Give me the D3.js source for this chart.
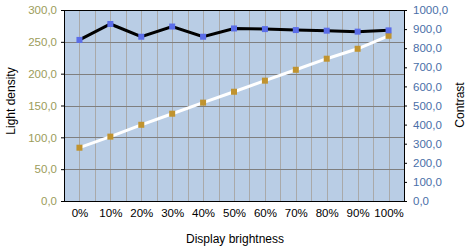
<!doctype html>
<html>
<head>
<meta charset="utf-8">
<style>
  body { margin: 0; background: #fff; }
  text { font-family: "Liberation Sans", Arial, sans-serif; }
</style>
</head>
<body>
<div id="chart"></div>
<script src="https://d3js.org/d3.v7.min.js"></script>
<script>
// data
var categories = ["0%", "10%", "20%", "30%", "40%", "50%", "60%", "70%", "80%", "90%", "100%"];
var lightDensity = [253, 278, 258, 274, 258, 271, 270, 268.5, 267.5, 266, 268];
var contrast = [279, 337, 399, 457, 515, 572, 630, 687, 745, 797, 865];
var leftTicks = [0, 50, 100, 150, 200, 250, 300];
var rightTicks = [0, 100, 200, 300, 400, 500, 600, 700, 800, 900, 1000];

var W = 470, H = 248;
var plotL = 64, plotR = 404, plotT = 10, plotB = 201;

var svg = d3.select("#chart").append("svg")
    .attr("width", W)
    .attr("height", H);

var x = d3.scalePoint().domain(categories).range([plotL, plotR]).padding(0.5);
var yL = d3.scaleLinear().domain([0, 300]).range([plotB, plotT]);
var yR = d3.scaleLinear().domain([0, 1000]).range([plotB, plotT]);

// plot background
svg.append("rect")
    .attr("x", plotL).attr("y", plotT)
    .attr("width", plotR - plotL).attr("height", plotB - plotT)
    .attr("fill", "#b9cde5");

// vertical grid lines: at each category and halfway between
var step = x.step();
var vlines = [];
categories.forEach(function (c) {
    vlines.push(x(c) - step / 2);
    vlines.push(x(c));
});
svg.append("g").selectAll("line")
    .data(vlines.filter(function (v) { return v > plotL + 1 && v < plotR - 1; }))
    .enter().append("line")
    .attr("x1", function (d) { return Math.round(d) + 0.5; })
    .attr("x2", function (d) { return Math.round(d) + 0.5; })
    .attr("y1", plotT).attr("y2", plotB)
    .attr("stroke", "#a9a9a9").attr("stroke-width", 1);

// horizontal grid lines
svg.append("g").selectAll("line")
    .data(leftTicks.slice(1, -1))
    .enter().append("line")
    .attr("x1", plotL).attr("x2", plotR)
    .attr("y1", function (d) { return Math.round(yL(d)) + 0.5; })
    .attr("y2", function (d) { return Math.round(yL(d)) + 0.5; })
    .attr("stroke", "#7f7f7f").attr("stroke-width", 1);

// top border
svg.append("line")
    .attr("x1", plotL).attr("x2", plotR)
    .attr("y1", plotT + 0.5).attr("y2", plotT + 0.5)
    .attr("stroke", "#000");

var fmt = function (d) { return d.toFixed(1).replace(".", ","); };

// left axis
var gL = svg.append("g")
    .attr("transform", "translate(" + plotL + ",0)")
    .call(d3.axisLeft(yL).tickValues(leftTicks).tickFormat(fmt).tickSize(3).tickSizeOuter(0));
gL.select(".domain").attr("stroke", "#000");
gL.selectAll(".tick line").attr("stroke", "#000");
gL.selectAll("text").attr("fill", "#9c9c5a").style("font-size", "11.5px")
    .style("font-family", "'Liberation Sans', Arial, sans-serif").attr("x", -7);

// right axis
var gR = svg.append("g")
    .attr("transform", "translate(" + plotR + ",0)")
    .call(d3.axisRight(yR).tickValues(rightTicks).tickFormat(fmt).tickSize(3).tickSizeOuter(0));
gR.select(".domain").attr("stroke", "#000");
gR.selectAll(".tick line").attr("stroke", "#000");
gR.selectAll("text").attr("fill", "#4a6fa8").style("font-size", "11.5px")
    .style("font-family", "'Liberation Sans', Arial, sans-serif").attr("x", 9);

// bottom axis
var gB = svg.append("g")
    .attr("transform", "translate(0," + plotB + ")")
    .call(d3.axisBottom(x).tickSize(0).tickSizeOuter(0));
gB.select(".domain").attr("stroke", "#000").attr("d", "M" + plotL + ",0.5H" + plotR);
gB.selectAll("text").attr("fill", "#000").style("font-size", "11.5px")
    .style("font-family", "'Liberation Sans', Arial, sans-serif").attr("y", 8);

// contrast line (white, gold markers)
svg.append("path")
    .datum(contrast)
    .attr("fill", "none")
    .attr("stroke", "#ffffff")
    .attr("stroke-width", 3)
    .attr("d", d3.line()
        .x(function (d, i) { return x(categories[i]); })
        .y(function (d) { return yR(d); }));
svg.append("g").selectAll("rect")
    .data(contrast)
    .enter().append("rect")
    .attr("x", function (d, i) { return x(categories[i]) - 3; })
    .attr("y", function (d) { return yR(d) - 3; })
    .attr("width", 6).attr("height", 6)
    .attr("fill", "#c0932f");

// light density line (black, blue markers)
svg.append("path")
    .datum(lightDensity)
    .attr("fill", "none")
    .attr("stroke", "#000")
    .attr("stroke-width", 3)
    .attr("d", d3.line()
        .x(function (d, i) { return x(categories[i]); })
        .y(function (d) { return yL(d); }));
svg.append("g").selectAll("rect")
    .data(lightDensity)
    .enter().append("rect")
    .attr("x", function (d, i) { return x(categories[i]) - 3; })
    .attr("y", function (d) { return yL(d) - 3; })
    .attr("width", 6).attr("height", 6)
    .attr("fill", "#5b6de8");

// axis titles
svg.append("text")
    .attr("transform", "translate(15,101) rotate(-90)")
    .attr("text-anchor", "middle")
    .style("font-size", "12px")
    .text("Light density");
svg.append("text")
    .attr("transform", "translate(464,105) rotate(-90)")
    .attr("text-anchor", "middle")
    .style("font-size", "12px")
    .text("Contrast");
svg.append("text")
    .attr("x", 235).attr("y", 243)
    .attr("text-anchor", "middle")
    .style("font-size", "12px")
    .text("Display brightness");
</script>
</body>
</html>
